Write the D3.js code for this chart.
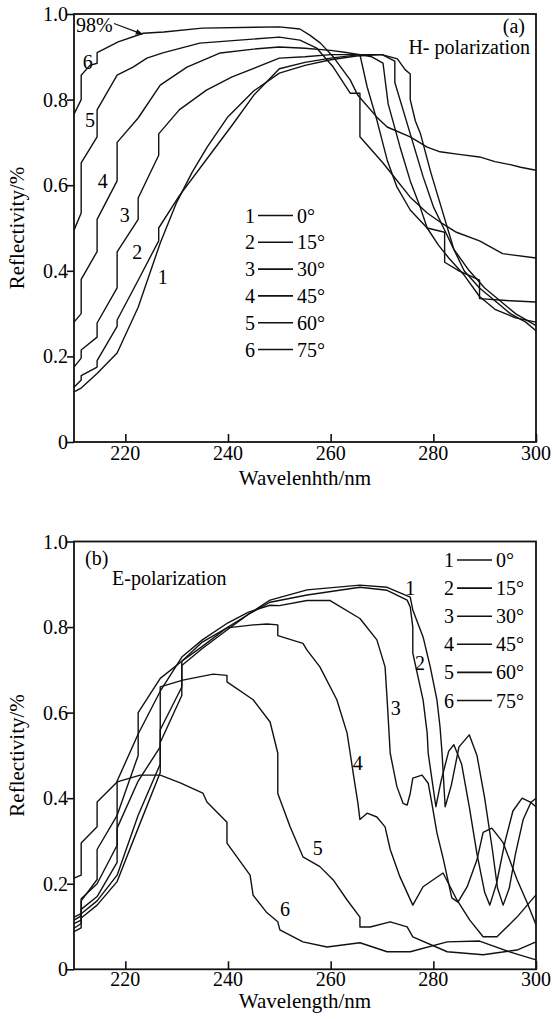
<!DOCTYPE html>
<html>
<head>
<meta charset="utf-8">
<script src="https://cdn.jsdelivr.net/npm/d3@7"></script>
<style>
  body { margin: 0; background: #fff; }
  svg { display: block; }
  text { font-family: "Liberation Serif", "DejaVu Serif", serif; }
</style>
</head>
<body>
<div id="chart"></div>
<script>
// tick values and legend text
const xTicks = [220, 240, 260, 280, 300];
const yTicks = [0, 0.2, 0.4, 0.6, 0.8, 1.0];
const curveIds = ["1", "2", "3", "4", "5", "6"];
const angles = ["0°", "15°", "30°", "45°", "60°", "75°"];

// (a) H-polarization, [wavelength nm, reflectivity]
const h0 = [[210,.117],[211.4,.126],[214.5,.16],[218.4,.208],[222.5,.315],[226.8,.465],[230,.56],[233,.63],[236,.69],[240,.76],[245,.82],[250,.862],[255,.88],[260,.893],[265,.902],[270,.905],[273,.895],[274.5,.87],[275.5,.86],[275.5,.80],[276.5,.75],[277.5,.72],[279.5,.63],[282,.53],[283,.49],[284,.45],[286,.40],[289,.36],[292,.33],[295,.30],[298,.28],[300,.26]];
const h15 = [[210,.128],[211.4,.145],[211.4,.155],[214.5,.175],[214.5,.19],[218.4,.27],[218.4,.285],[222.5,.378],[226.5,.47],[226.5,.50],[230.5,.575],[235.8,.66],[240.8,.74],[245,.81],[250,.872],[255,.887],[260,.897],[265.7,.905],[270,.905],[272.5,.89],[272.5,.84],[274,.78],[276,.70],[278,.62],[280,.55],[282,.50],[284,.45],[287,.40],[290,.36],[293,.33],[296,.30],[300,.272]];
const h30 = [[210,.175],[211.4,.196],[211.4,.215],[214.5,.245],[214.5,.278],[218.4,.36],[218.4,.444],[222.5,.52],[222.5,.57],[226.5,.67],[226.5,.72],[230.5,.776],[235.8,.822],[240.8,.853],[250,.897],[255,.90],[260,.905],[265.7,.905],[268,.90],[270.2,.885],[271.2,.79],[273.5,.69],[275.5,.61],[277.4,.55],[278.8,.50],[281,.46],[283,.43],[286,.39],[289,.34],[292,.31],[296,.29],[300,.28]];
const h45 = [[210,.28],[211.4,.30],[211.4,.38],[214.5,.445],[214.5,.52],[218.4,.61],[218.4,.70],[222.5,.757],[226.8,.834],[232,.876],[238.5,.909],[245,.918],[250,.923],[255,.92],[260,.915],[263,.91],[265.7,.905],[267.1,.83],[269,.752],[271,.659],[272.9,.596],[275.5,.542],[278.8,.50],[282.2,.49],[282.2,.42],[285,.40],[289,.378],[289,.335],[295,.33],[300,.327]];
const h60 = [[210,.495],[211.4,.535],[211.4,.652],[214.5,.713],[214.5,.776],[218.4,.857],[221.5,.876],[224.2,.897],[227.3,.909],[234.5,.932],[250,.946],[254,.939],[257.3,.92],[260.5,.876],[263.8,.815],[265.7,.815],[265.7,.713],[270.2,.652],[275.5,.572],[278.8,.535],[281.8,.51],[284.5,.49],[289,.47],[293.5,.44],[300,.43]];
const h75 = [[210,.766],[211.4,.80],[211.4,.857],[213.1,.88],[214.5,.885],[214.5,.91],[218.6,.935],[223.5,.955],[227.5,.958],[235,.967],[250,.97],[254,.965],[256,.95],[258,.932],[260.5,.90],[263.8,.846],[265.3,.81],[269,.759],[271,.736],[275.5,.713],[278.8,.689],[281.3,.678],[285,.672],[289,.666],[292,.655],[295,.648],[297,.642],[300,.635]];

// (b) E-polarization
const e0 = [[210,.088],[211.4,.097],[211.4,.12],[214.5,.15],[218.4,.205],[222.5,.33],[226.8,.46],[226.8,.53],[231,.64],[231,.71],[235,.75],[240,.795],[244,.83],[248.2,.863],[255.4,.887],[265.7,.898],[271,.893],[275.5,.87],[276,.84],[278,.777],[279.4,.707],[280.7,.63],[281.3,.567],[281.7,.505],[282.3,.38],[283.5,.43],[285,.52],[287,.548],[288.5,.50],[290,.40],[291.5,.28],[292.5,.19],[293.6,.15],[294.8,.19],[296,.27],[297.5,.35],[299,.39],[300,.40]];
const e15 = [[210,.096],[211.4,.107],[211.4,.13],[214.5,.16],[218.4,.22],[222.5,.36],[226.8,.48],[226.8,.56],[231,.66],[231,.72],[235,.755],[240,.80],[244,.83],[248.2,.858],[255.4,.875],[265.7,.893],[271,.886],[274.9,.863],[275.5,.847],[276,.80],[276,.739],[278,.63],[278.8,.552],[279,.505],[280.5,.38],[281.5,.44],[283,.51],[284,.525],[285.5,.48],[287,.38],[288.5,.27],[290,.18],[291,.15],[292.3,.20],[294,.30],[295.5,.37],[297.3,.40],[299,.39],[300,.38]];
const e30 = [[210,.107],[211.4,.115],[211.4,.14],[214.5,.17],[218.4,.25],[218.4,.36],[222.5,.50],[222.5,.55],[226.8,.65],[231,.73],[235,.77],[240,.81],[244,.835],[248.2,.851],[250,.85],[255.4,.862],[259.9,.862],[265.7,.82],[269,.77],[270.6,.707],[271,.63],[271.6,.505],[272.9,.427],[274.1,.388],[274.9,.384],[275.5,.411],[276,.447],[277.8,.454],[279,.435],[279.7,.389],[280.7,.319],[281.9,.26],[283.6,.167],[284.8,.157],[286.6,.193],[288.5,.256],[289.7,.32],[291.4,.33],[293.6,.296],[296.3,.21],[298.3,.155],[300,.104]];
const e45 = [[210,.115],[211.4,.125],[211.4,.16],[214.5,.21],[214.5,.28],[218.4,.36],[218.4,.44],[222.5,.55],[222.5,.60],[226.8,.68],[231,.72],[235,.765],[239.8,.798],[244.9,.805],[247.6,.807],[249.7,.805],[249.7,.78],[254.6,.762],[255.4,.746],[257.9,.707],[261.2,.63],[263.2,.552],[263.8,.505],[264.5,.45],[265.3,.389],[265.7,.35],[267.1,.365],[269,.356],[270.6,.333],[271.6,.28],[273.5,.216],[276,.15],[278,.193],[281.9,.225],[284.6,.162],[287.1,.115],[289.7,.076],[292.4,.076],[296.3,.122],[300,.174]];
const e60 = [[210,.122],[211.4,.13],[211.4,.165],[214.5,.20],[218.4,.29],[218.4,.33],[222.5,.44],[226.8,.52],[226.8,.66],[231.2,.676],[237.1,.69],[239.8,.687],[239.8,.672],[244.9,.63],[248.2,.578],[249.7,.505],[249.7,.411],[252.1,.333],[254.6,.263],[257.9,.24],[260.5,.209],[263.2,.162],[265.7,.122],[265.7,.099],[267.7,.099],[271.6,.111],[274.9,.099],[276,.076],[282.7,.041],[289.7,.034],[296.3,.045],[300,.064]];
const e75 = [[210,.213],[211.4,.22],[211.4,.295],[214.5,.333],[214.5,.391],[218.4,.438],[222.9,.454],[226.8,.454],[230.7,.436],[235.1,.412],[235.9,.391],[239.8,.344],[239.8,.295],[244.3,.22],[244.9,.173],[247.6,.132],[249.7,.111],[250.1,.092],[254.6,.064],[259.3,.052],[265.7,.062],[271,.041],[275.5,.041],[282.7,.064],[289,.066],[295,.04],[300,.022]];

const W = 553, H = 1019;
const FONT = "'Liberation Serif', 'DejaVu Serif', serif";
const svg = d3.select("#chart").append("svg")
    .attr("width", W)
    .attr("height", H)
    .attr("font-family", FONT);

const x = d3.scaleLinear().domain([210, 300]).range([74, 536]);

function drawPanel(opts) {
    const y = d3.scaleLinear().domain([0, 1]).range([opts.bottom, opts.top]);
    const g = svg.append("g");

    // curves
    const line = d3.line().x(d => x(d[0])).y(d => y(d[1]));
    g.selectAll("path.curve")
        .data(opts.curves)
        .enter().append("path")
        .attr("class", "curve")
        .attr("d", line)
        .attr("fill", "none")
        .attr("stroke", "#111")
        .attr("stroke-width", 1.4)
        .attr("stroke-linejoin", "round");

    // frame
    g.append("rect")
        .attr("x", x(210)).attr("y", y(1))
        .attr("width", x(300) - x(210)).attr("height", y(0) - y(1))
        .attr("fill", "none").attr("stroke", "#111").attr("stroke-width", 1.8);

    // x ticks point inward, y ticks outward
    const xAxis = g.append("g")
        .attr("transform", `translate(0,${y(0)})`)
        .call(d3.axisBottom(x).tickValues(xTicks).tickSize(-8).tickPadding(0).tickFormat(""));
    const yAxis = g.append("g")
        .attr("transform", `translate(${x(210)},0)`)
        .call(d3.axisLeft(y).tickValues(yTicks).tickSize(7).tickFormat(""));
    [xAxis, yAxis].forEach(a => {
        a.select(".domain").remove();
        a.selectAll("line").attr("stroke", "#111").attr("stroke-width", 1.6);
    });

    g.selectAll("text.xt")
        .data(xTicks)
        .enter().append("text")
        .attr("x", d => x(d))
        .attr("y", y(0) + opts.xLabelOff)
        .attr("text-anchor", "middle")
        .attr("font-family", FONT)
        .attr("font-size", 20)
        .text(d => d);

    g.selectAll("text.yt")
        .data(yTicks)
        .enter().append("text")
        .attr("x", x(210) - 6)
        .attr("y", d => y(d) + 7)
        .attr("text-anchor", "end")
        .attr("font-family", FONT)
        .attr("font-size", 20)
        .text(d => d === 0 ? "0" : d.toFixed(1));

    g.append("text")
        .attr("x", (x(210) + x(300)) / 2)
        .attr("y", y(0) + opts.titleOff)
        .attr("text-anchor", "middle")
        .attr("font-family", FONT)
        .attr("font-size", 21)
        .text(opts.xTitle);

    g.append("text")
        .attr("transform", `translate(24,${(y(0) + y(1)) / 2}) rotate(-90)`)
        .attr("text-anchor", "middle")
        .attr("font-family", FONT)
        .attr("font-size", 21)
        .text("Reflectivity/%");

    // curve number labels
    g.selectAll("text.cl")
        .data(opts.labels)
        .enter().append("text")
        .attr("x", d => x(d[0]))
        .attr("y", d => y(d[1]) + 7)
        .attr("text-anchor", "middle")
        .attr("font-family", FONT)
        .attr("font-size", 20)
        .text((d, i) => curveIds[i]);

    // legend
    const lg = g.append("g");
    curveIds.forEach((id, i) => {
        const ly = opts.legY + i * opts.legStep;
        lg.append("text")
            .attr("x", opts.legX)
            .attr("y", ly + 7)
            .attr("text-anchor", "end")
            .attr("font-family", FONT)
            .attr("font-size", 20)
            .text(id);
        lg.append("line")
            .attr("x1", opts.legX + 3).attr("x2", opts.legX + 3 + opts.legLen)
            .attr("y1", ly).attr("y2", ly)
            .attr("stroke", "#111").attr("stroke-width", 1.6);
        lg.append("text")
            .attr("x", opts.legX + 7 + opts.legLen)
            .attr("y", ly + 7)
            .attr("font-family", FONT)
            .attr("font-size", 20)
            .text(angles[i]);
    });
    return {g, y};
}

function label(g, txt, px, py, anchor) {
    g.append("text").attr("x", px).attr("y", py)
        .attr("text-anchor", anchor || "start")
        .attr("font-family", FONT).attr("font-size", 20)
        .text(txt);
}

// panel (a)
const pa = drawPanel({
    top: 14, bottom: 442,
    curves: [h0, h15, h30, h45, h60, h75],
    labels: [[227.3, .386], [222.3, .444], [219.9, .53], [215.6, .61], [213.1, .752], [212.7, .888]],
    xTitle: "Wavelenhth/nm", xLabelOff: 18, titleOff: 43,
    legX: 255, legY: 215.5, legStep: 26.8, legLen: 35
});
label(pa.g, "(a)", 525, 33, "end");
label(pa.g, "H- polarization", 530, 54, "end");
label(pa.g, "98%", 76, 32);

svg.append("defs").append("marker")
    .attr("id", "arr").attr("viewBox", "0 0 10 10")
    .attr("refX", 9).attr("refY", 5)
    .attr("markerWidth", 7).attr("markerHeight", 6)
    .attr("orient", "auto")
    .append("path").attr("d", "M0,1 L10,5 L0,9 Z").attr("fill", "#111");
pa.g.append("line")
    .attr("x1", 114).attr("y1", 23.5)
    .attr("x2", x(223.3)).attr("y2", pa.y(0.953))
    .attr("stroke", "#111").attr("stroke-width", 1.2)
    .attr("marker-end", "url(#arr)");

// panel (b)
const pb = drawPanel({
    top: 541.5, bottom: 969.3,
    curves: [e0, e15, e30, e45, e60, e75],
    labels: [[275.5, .891], [277.4, .716], [272.7, .61], [265.3, .482], [257.5, .283], [251.1, .141]],
    xTitle: "Wavelength/nm", xLabelOff: 17, titleOff: 39,
    legX: 454, legY: 560, legStep: 28.1, legLen: 35
});
label(pb.g, "(b)", 85, 565);
label(pb.g, "E-polarization", 112, 585);
</script>
</body>
</html>
